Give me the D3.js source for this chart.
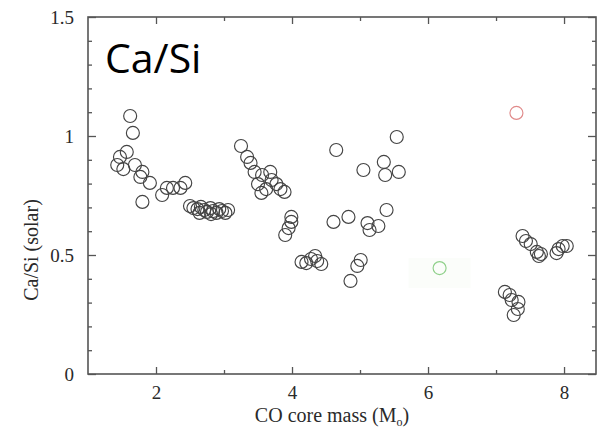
<!DOCTYPE html>
<html>
<head>
<meta charset="utf-8">
<script src="https://cdn.jsdelivr.net/npm/d3@7"></script>
<style>
  html, body { margin: 0; padding: 0; background: #fff; }
  svg { display: block; }
  .axis text { font-family: "Liberation Serif", "DejaVu Serif", serif; font-size: 19px; fill: #2a2a2a; }
  .axis path { display: none; }
  .axis line { stroke: #555; stroke-width: 1.3; }
</style>
</head>
<body>
<svg id="viz" width="597" height="430"></svg>
<script>
// model runs, [CO core mass, Ca/Si]
const lowMass = [
  [1.62, 1.084], [1.66, 1.013], [1.57, 0.933], [1.47, 0.912], [1.43, 0.878], [1.52, 0.861],
  [1.69, 0.878], [1.80, 0.849], [1.77, 0.828], [1.91, 0.803], [1.80, 0.723], [2.09, 0.752],
  [2.16, 0.782], [2.25, 0.782], [2.36, 0.782], [2.43, 0.803]
];
const plateau = [
  [2.50, 0.706], [2.55, 0.697], [2.61, 0.693], [2.66, 0.702], [2.71, 0.689], [2.75, 0.681],
  [2.80, 0.697], [2.84, 0.685], [2.89, 0.677], [2.93, 0.693], [2.97, 0.685], [3.02, 0.677],
  [3.06, 0.689], [2.64, 0.677], [2.81, 0.672]
];
const midMass = [
  [3.25, 0.958], [3.34, 0.912], [3.39, 0.887], [3.45, 0.849], [3.56, 0.836], [3.68, 0.849],
  [3.70, 0.815], [3.50, 0.798], [3.55, 0.761], [3.62, 0.777], [3.77, 0.798], [3.83, 0.777],
  [3.89, 0.765], [3.99, 0.660], [3.99, 0.639], [3.95, 0.613], [3.90, 0.584]
];
const dip = [
  [4.14, 0.471], [4.21, 0.466], [4.28, 0.483], [4.34, 0.496], [4.37, 0.475], [4.43, 0.462]
];
const scattered = [
  [4.65, 0.941], [5.54, 0.996], [5.05, 0.857], [5.35, 0.891], [5.37, 0.836], [5.57, 0.849],
  [5.39, 0.689], [4.61, 0.639], [4.83, 0.660], [5.11, 0.634], [5.14, 0.605], [5.27, 0.622],
  [5.01, 0.479], [4.96, 0.454], [4.86, 0.391]
];
const highLow = [
  [7.13, 0.345], [7.20, 0.332], [7.23, 0.311], [7.33, 0.303], [7.32, 0.273], [7.26, 0.248]
];
const highMid = [
  [7.39, 0.580], [7.44, 0.559], [7.51, 0.546], [7.60, 0.513], [7.63, 0.496], [7.66, 0.504],
  [7.89, 0.508], [7.92, 0.525], [7.98, 0.538], [8.04, 0.538]
];
const greenPoint = [[6.17, 0.445]];
const redPoint = [[7.30, 1.097]];

const xMajor = [2, 4, 6, 8];
const xMinor = [3, 5, 7];
const yMajor = [0, 0.5, 1, 1.5];
const yMinor = [0.1, 0.2, 0.3, 0.4, 0.6, 0.7, 0.8, 0.9, 1.1, 1.2, 1.3, 1.4];

const FRAME = { left: 88, right: 596, top: 17, bottom: 374 };

const svg = d3.select("#viz");
const x = d3.scaleLinear().domain([1, 8.47]).range([FRAME.left, FRAME.right]);
const y = d3.scaleLinear().domain([0, 1.5]).range([FRAME.bottom, FRAME.top]);

// very faint highlight box behind the green point
svg.append("rect")
  .attr("x", x(greenPoint[0][0]) - 31).attr("y", y(greenPoint[0][1]) - 10)
  .attr("width", 62).attr("height", 30)
  .attr("fill", "#fbfdfa");

// axes: ticks point inward on all four sides
function addAxis(axisFn, pos, values, size, labels) {
  const a = axisFn.tickValues(values).tickSize(-size);
  if (labels) a.tickFormat(d3.format("")); else a.tickFormat("");
  return svg.append("g").attr("class", "axis").attr("transform", pos).call(a);
}

addAxis(d3.axisBottom(x).tickPadding(12), `translate(0,${FRAME.bottom})`, xMajor, 7, true);
addAxis(d3.axisBottom(x), `translate(0,${FRAME.bottom})`, xMinor, 4, false);
addAxis(d3.axisTop(x), `translate(0,${FRAME.top})`, xMajor, 7, false);
addAxis(d3.axisTop(x), `translate(0,${FRAME.top})`, xMinor, 4, false);
addAxis(d3.axisLeft(y).tickPadding(14), `translate(${FRAME.left},0)`, yMajor, 8, true);
addAxis(d3.axisLeft(y), `translate(${FRAME.left},0)`, yMinor, 4, false);
addAxis(d3.axisRight(y), `translate(${FRAME.right},0)`, yMajor, 8, false);
addAxis(d3.axisRight(y), `translate(${FRAME.right},0)`, yMinor, 4, false);

svg.append("rect")
  .attr("x", FRAME.left).attr("y", FRAME.top)
  .attr("width", FRAME.right - FRAME.left).attr("height", FRAME.bottom - FRAME.top)
  .attr("fill", "none").attr("stroke", "#555").attr("stroke-width", 1.6);

// points
const black = [].concat(lowMass, plateau, midMass, dip, scattered, highLow, highMid);

function drawPoints(data, stroke) {
  svg.append("g").selectAll("circle")
    .data(data)
    .join("circle")
    .attr("cx", d => x(d[0]))
    .attr("cy", d => y(d[1]))
    .attr("r", 6.5)
    .attr("fill", "none")
    .attr("stroke", stroke)
    .attr("stroke-width", 1.15);
}

drawPoints(black, "#444");
drawPoints(greenPoint, "#8fd08a");
drawPoints(redPoint, "#e08a8a");

// axis titles
const xt = svg.append("text")
  .attr("x", 332).attr("y", 422)
  .attr("text-anchor", "middle")
  .attr("font-family", "Liberation Serif, serif")
  .attr("font-size", 20).attr("fill", "#2a2a2a");
xt.append("tspan").text("CO core mass (M");
xt.append("tspan").attr("font-size", 12).attr("dy", 4).text("o");
xt.append("tspan").attr("dy", -4).text(")");

svg.append("text")
  .attr("transform", "translate(38,250) rotate(-90)")
  .attr("text-anchor", "middle")
  .attr("font-family", "Liberation Serif, serif")
  .attr("font-size", 20).attr("fill", "#2a2a2a")
  .text("Ca/Si (solar)");

// panel label
svg.append("text")
  .attr("x", 105).attr("y", 73)
  .attr("font-family", "Open Sans, sans-serif")
  .attr("font-size", 41).attr("fill", "#000")
  .text("Ca/Si");
</script>
</body>
</html>
